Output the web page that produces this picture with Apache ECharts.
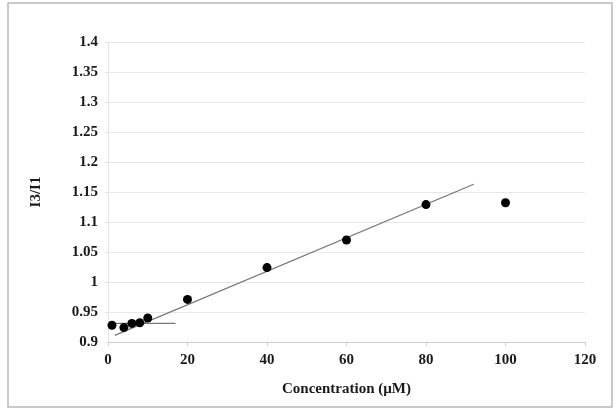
<!DOCTYPE html>
<html>
<head>
<meta charset="utf-8">
<script src="https://cdn.jsdelivr.net/npm/echarts@6/dist/echarts.min.js"></script>
<style>html,body{margin:0;padding:0;background:#fff}#c{width:616px;height:412px}</style>
</head>
<body>
<div id="c"></div>
<script>
const concentrations = [1, 4, 6, 8, 10, 20, 40, 60, 80, 100];
const ratios = [0.928, 0.924, 0.931, 0.932, 0.940, 0.971, 1.024, 1.070, 1.129, 1.132];
const trendX = [1.7, 92];
const trendY = [0.911, 1.163];
const baseX = [1, 17];
const baseY = [0.931, 0.931];
const xTitle = 'Concentration (µM)';
const yTitle = 'I3/I1';

const font = 'Liberation Serif, Times New Roman, serif';
const chart = echarts.init(document.getElementById('c'));
chart.setOption({
  animation: false,
  backgroundColor: '#fff',
  graphic: [{
    type: 'rect', shape: {x: 8, y: 3, width: 604, height: 404},
    style: {fill: 'none', stroke: '#b8b8b8', lineWidth: 1.5}, silent: true, z: -1
  }],
  grid: {left: 108, right: 31, top: 42, bottom: 70},
  xAxis: {
    type: 'value', min: 0, max: 120, interval: 20,
    name: xTitle, nameLocation: 'middle', nameGap: 40,
    nameTextStyle: {fontFamily: font, fontWeight: 'bold', fontSize: 15, color: '#1a1a1a'},
    axisLine: {show: true, lineStyle: {color: '#d0d0d0'}},
    axisTick: {show: true, length: 4, lineStyle: {color: '#d0d0d0'}},
    splitLine: {show: false},
    axisLabel: {fontFamily: font, fontWeight: 'bold', fontSize: 15, color: '#1a1a1a', margin: 11}
  },
  yAxis: {
    type: 'value', min: 0.9, max: 1.4, interval: 0.05,
    name: yTitle, nameLocation: 'middle', nameGap: 64, nameRotate: 90,
    nameTextStyle: {fontFamily: font, fontWeight: 'bold', fontSize: 15, color: '#1a1a1a'},
    axisLine: {show: true, lineStyle: {color: '#e4e4e4'}},
    axisTick: {show: true, length: 3, lineStyle: {color: '#e4e4e4'}},
    splitLine: {show: true, lineStyle: {color: '#e8e8e8'}},
    axisLabel: {fontFamily: font, fontWeight: 'bold', fontSize: 15, color: '#1a1a1a', margin: 10,
      formatter: v => String(parseFloat(v.toFixed(2)))}
  },
  series: [
    {type: 'line', data: trendX.map((x, i) => [x, trendY[i]]), symbol: 'none',
      lineStyle: {color: '#777', width: 1.2}, z: 2},
    {type: 'line', data: baseX.map((x, i) => [x, baseY[i]]), symbol: 'none',
      lineStyle: {color: '#777', width: 1.2}, z: 2},
    {type: 'scatter', data: concentrations.map((x, i) => [x, ratios[i]]), symbolSize: 9,
      itemStyle: {color: '#000', opacity: 1}, z: 3}
  ]
});
</script>
</body>
</html>
